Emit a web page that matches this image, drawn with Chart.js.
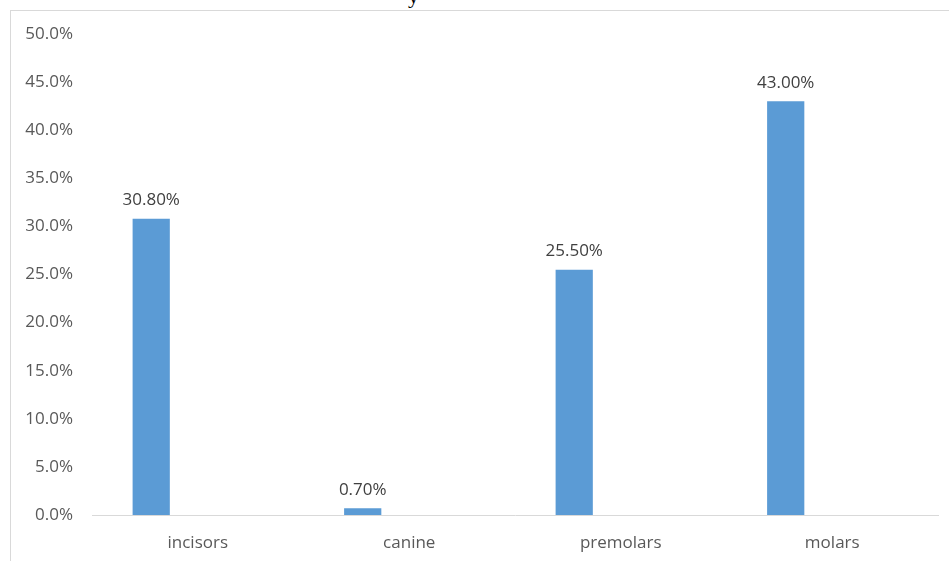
<!DOCTYPE html>
<html>
<head>
<meta charset="utf-8">
<script src="https://cdn.jsdelivr.net/npm/chart.js@4"></script>
<style>
  body { margin: 0; background: #fff; overflow: hidden; }
  #wrap { position: relative; width: 949px; height: 561px; }
  #frame { position: absolute; left: 10px; top: 10px; width: 960px; height: 600px; border: 1px solid #d9d9d9; box-sizing: border-box; }
  #cut { position: absolute; left: 408px; top: -17px; font: 22px "Liberation Serif"; color: #000; }
  canvas { position: absolute; left: 0; top: 0; }
</style>
</head>
<body>
<div id="wrap">
  <div id="frame"></div>
  <div id="cut">y</div>
  <canvas id="chartCanvas" width="949" height="561"></canvas>
</div>
<script>
  const categories = ['incisors', 'canine', 'premolars', 'molars'];
  const percentValues = [30.8, 0.7, 25.5, 43.0];
  const emptySeries = [null, null, null, null];
  const yTicks = [0, 5, 10, 15, 20, 25, 30, 35, 40, 45, 50];

  const textFont = { family: '"Open Sans"', size: 17 };

  // draws the value text above each bar of the first dataset
  const barLabels = {
    id: 'barLabels',
    afterDatasetsDraw(chart) {
      const ctx = chart.ctx;
      const meta = chart.getDatasetMeta(0);
      ctx.save();
      ctx.font = '17px "Open Sans"';
      ctx.fillStyle = '#404040';
      ctx.textAlign = 'center';
      ctx.textBaseline = 'bottom';
      meta.data.forEach((bar, i) => {
        ctx.fillText(percentValues[i].toFixed(2) + '%', bar.x, bar.y - 10);
      });
      ctx.restore();
    }
  };

  const ctx = document.getElementById('chartCanvas').getContext('2d');
  window.toothChart = new Chart(ctx, {
    type: 'bar',
    data: {
      labels: categories,
      datasets: [
        { data: percentValues, backgroundColor: '#5B9BD5' },
        { data: emptySeries, backgroundColor: '#ED7D31' }
      ]
    },
    options: {
      responsive: false,
      animation: false,
      categoryPercentage: 0.88,
      barPercentage: 0.4,
      layout: { padding: { top: 34, right: 11, left: 0, bottom: 0 } },
      plugins: { legend: { display: false }, tooltip: { enabled: false } },
      scales: {
        x: {
          grid: { display: false, drawTicks: false },
          border: { display: true, color: '#d9d9d9' },
          ticks: { color: '#595959', font: textFont, padding: 18 },
          afterFit(scale) { scale.height = 46; }
        },
        y: {
          min: 0,
          max: 50,
          afterBuildTicks(scale) { scale.ticks = yTicks.map(v => ({ value: v })); },
          grid: { display: false, drawTicks: false },
          border: { display: false },
          ticks: {
            color: '#595959',
            font: textFont,
            padding: 19,
            callback: v => v.toFixed(1) + '%'
          },
          afterFit(scale) { scale.width = 92; }
        }
      }
    },
    plugins: [barLabels]
  });
</script>
</body>
</html>
